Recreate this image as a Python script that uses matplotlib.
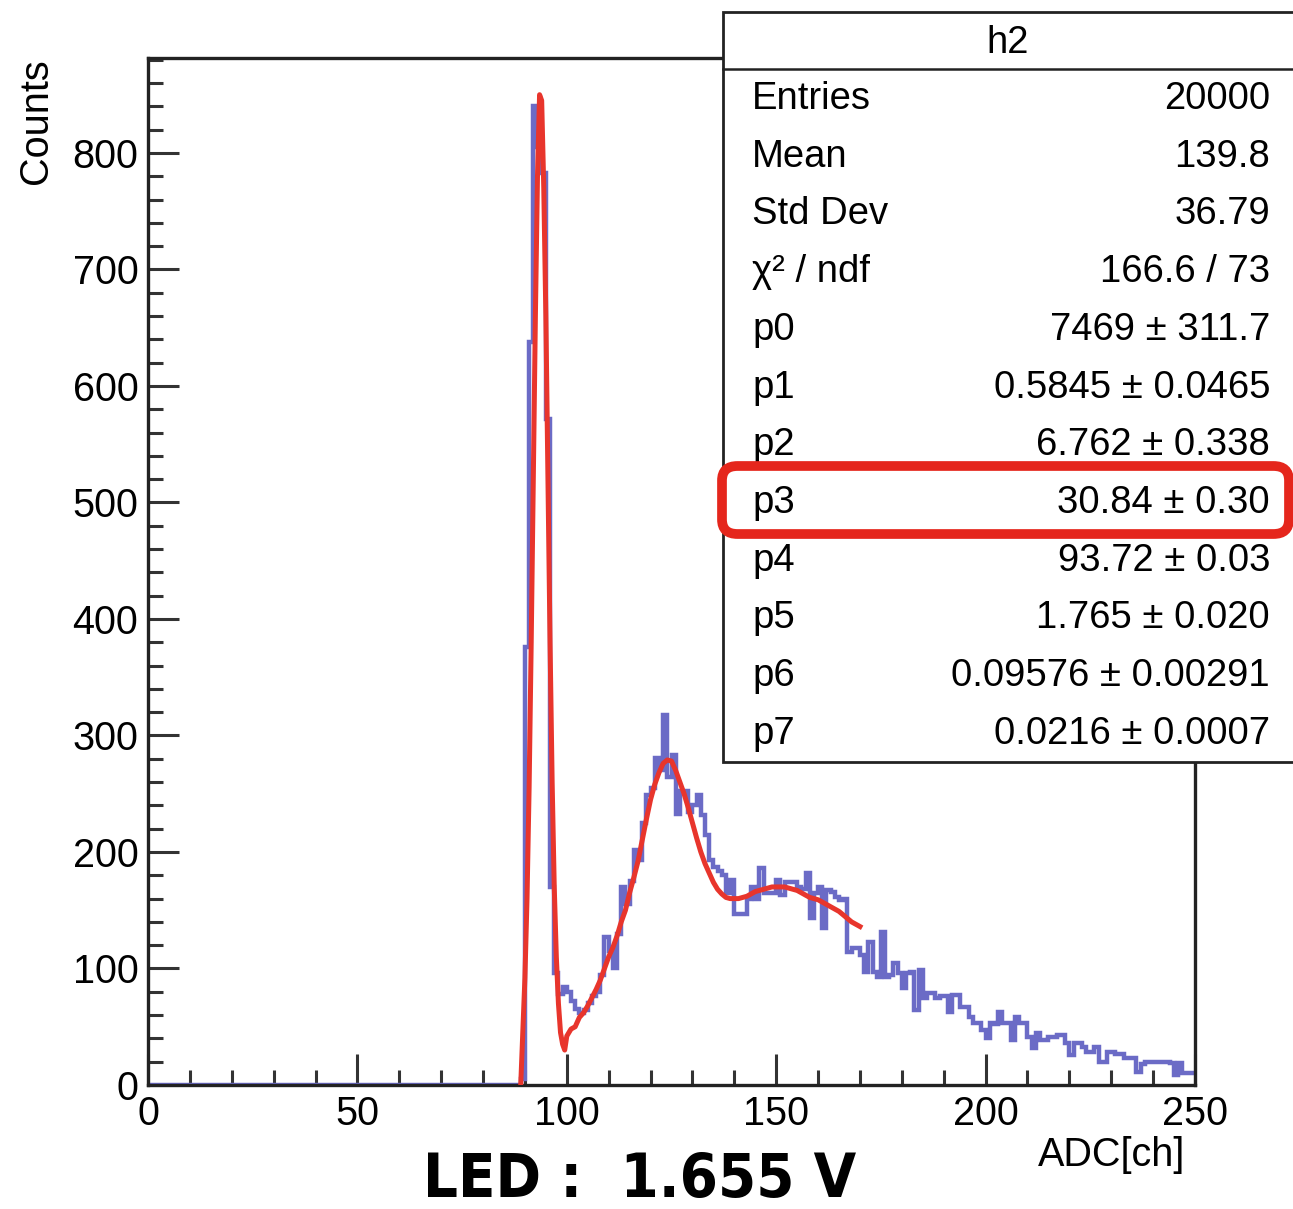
import numpy as np
import matplotlib
matplotlib.use("Agg")
import matplotlib.pyplot as plt
from matplotlib.patches import Rectangle, FancyBboxPatch
from matplotlib.lines import Line2D

# ---------------- data ----------------
first_nonzero_channel = 89
counts_from_89 = [
    5, 376, 638, 840, 805, 783, 572, 170, 96, 78,          # 89-98
    84, 80, 72, 65, 62, 64, 70, 76, 80, 94,               # 99-108
    127, 115, 100, 130, 170, 155, 175, 202, 193, 225,     # 109-118
    249, 255, 281, 270, 318, 264, 283, 233, 252, 252,     # 119-128
    234, 240, 249, 232, 215, 193, 187, 184, 180, 165,     # 129-138
    176, 147, 147, 147, 160, 170, 160, 186, 165, 165,     # 139-148
    165, 176, 163, 174, 174, 174, 170, 168, 182, 143,     # 149-158
    165, 170, 135, 167, 166, 161, 159, 160, 114, 118,     # 159-168
    118, 112, 97, 123, 97, 93, 131, 93, 94, 105,          # 169-178
    96, 83, 96, 97, 64, 99, 75, 79, 79, 75,               # 179-188
    76, 76, 63, 77, 77, 67, 67, 58, 53, 53,               # 189-198
    47, 40, 53, 52, 63, 53, 53, 39, 58, 53,               # 199-208
    53, 41, 32, 45, 39, 39, 41, 41, 43, 43,               # 209-218
    36, 26, 36, 36, 33, 28, 28, 33, 20, 20,               # 219-228
    28, 28, 27, 27, 23, 23, 23, 11, 18, 20,               # 229-238
    20, 20, 20, 20, 20, 19, 9, 19, 10, 10,                # 239-248
    10,                                                   # 249
]
zero_counts = [0] * first_nonzero_channel
hist_counts = zero_counts + counts_from_89
bin_edges = list(range(0, len(hist_counts) + 1))

fit_x = [89, 90, 90.5, 91, 91.5, 92, 92.5, 93, 93.5, 94, 94.5, 95, 95.5, 96,
         96.5, 97, 97.5, 98, 98.5, 99, 99.5, 100, 101, 102, 103, 104, 105,
         106, 107, 108, 109, 110, 111, 112, 113, 114, 115, 116, 117, 118,
         119, 120, 121, 122, 123, 124, 125, 126, 127, 128, 129, 130, 131,
         132, 133, 134, 135, 136, 137, 138, 139, 140, 141, 142, 143, 144,
         145, 146, 147, 148, 149, 150, 151, 152, 153, 154, 155, 156, 157,
         158, 159, 160, 161, 162, 163, 164, 165, 166, 167, 168, 169, 170]
fit_y = [0, 92, 160, 255, 380, 520, 660, 780, 850, 845, 770, 660, 520, 380,
         260, 170, 110, 70, 45, 35, 30, 42, 48, 50, 58, 62, 68,
         75, 82, 90, 100, 110, 118, 128, 140, 150, 165, 178, 192, 210,
         228, 245, 258, 268, 276, 279, 278, 270, 260, 250, 238, 225, 212,
         200, 190, 182, 174, 168, 164, 161, 160, 160, 160, 161, 162, 164,
         166, 167, 168, 169, 170, 170, 170, 170, 169, 168, 167, 165, 163,
         161, 160, 159, 157, 155, 153, 151, 149, 146, 143, 140, 138, 136]

x_ticks = [0, 50, 100, 150, 200, 250]
y_ticks = [0, 100, 200, 300, 400, 500, 600, 700, 800]

stats_title = "h2"
stats_labels = ["Entries", "Mean", "Std Dev", "χ² / ndf", "p0", "p1", "p2",
                "p3", "p4", "p5", "p6", "p7"]
stats_values = ["20000", "139.8", "36.79", "166.6 / 73", "7469 ± 311.7",
                "0.5845 ± 0.0465", "6.762 ± 0.338", "30.84 ± 0.30",
                "93.72 ± 0.03", "1.765 ± 0.020", "0.09576 ± 0.00291",
                "0.0216 ± 0.0007"]

# ---------------- figure ----------------
W, H = 1293, 1209
fig = plt.figure(figsize=(W / 100, H / 100), dpi=100)
FONT = "Liberation Sans"
FS_AX = 28.5
FS_ST = 27.5


def fx(px):
    return px / W


def fy(py):
    return 1 - py / H


ax_l, ax_r, ax_t, ax_b = 148, 1195, 58, 1085
ax = fig.add_axes([fx(ax_l), fy(ax_b), fx(ax_r - ax_l), (ax_b - ax_t) / H])

ax.stairs(hist_counts, bin_edges, color="#6b6bc6", lw=3.2, baseline=None,
          zorder=2)
ax.plot(fit_x, fit_y, color="#e8352c", lw=3.6, zorder=3)

ax.set_xlim(0, 250)
ax.set_ylim(0, 881.5)
ax.set_xticks(x_ticks)
ax.set_yticks(y_ticks)
ax.set_xticks(np.arange(0, 251, 10), minor=True)
ax.set_yticks(np.arange(0, 881, 20), minor=True)
ax.tick_params(which="both", direction="in", top=False, right=False,
               color="#333333", width=2.2)
ax.tick_params(which="major", length=22, labelsize=FS_AX, pad=7)
ax.tick_params(which="minor", length=11)
for lab in ax.get_xticklabels() + ax.get_yticklabels():
    lab.set_fontfamily(FONT)
for sp in ax.spines.values():
    sp.set_linewidth(2.4)
    sp.set_color("#222222")

fig.text(fx(36), fy(58), "Counts", rotation=90, ha="center", va="top",
         fontsize=FS_AX, family=FONT)
fig.text(fx(1185), fy(1155), "ADC[ch]", ha="right", va="center",
         fontsize=FS_AX, family=FONT)

fig.text(fx(640), fy(1180), "LED :  1.655 V", ha="center", va="center",
         fontsize=44, weight="bold", family="DejaVu Sans",
         fontstretch="condensed")

# ---------------- stats box ----------------
bx_l, bx_t, bx_b = 723, 12, 762
box = Rectangle((fx(bx_l), fy(bx_b)), fx(W + 20 - bx_l), (bx_b - bx_t) / H,
                transform=fig.transFigure, facecolor="white",
                edgecolor="#222222", lw=2.0, zorder=10)
fig.add_artist(box)
fig.add_artist(Line2D([fx(bx_l), fx(W + 5)], [fy(69), fy(69)],
                      transform=fig.transFigure, color="#222222", lw=1.8,
                      zorder=11))
fig.text(fx(1008), fy(43), stats_title, ha="center", va="center",
         fontsize=FS_ST, family=FONT, zorder=12)
row_y0, row_dy = 99, 57.7
for i, (lab, val) in enumerate(zip(stats_labels, stats_values)):
    yy = row_y0 + i * row_dy
    fig.text(fx(752), fy(yy), lab, ha="left", va="center", fontsize=FS_ST,
             family=FONT, zorder=12)
    fig.text(fx(1270), fy(yy), val, ha="right", va="center", fontsize=FS_ST,
             family=FONT, zorder=12)

# red hand-drawn highlight round p3
hl = FancyBboxPatch((fx(722), fy(534)), fx(1289 - 722), (534 - 466) / H,
                    boxstyle="round,pad=0,rounding_size=0.012",
                    transform=fig.transFigure, facecolor="none",
                    edgecolor="#e5261c", lw=7, zorder=13)
fig.add_artist(hl)

fig.savefig("out.png", dpi=100)
